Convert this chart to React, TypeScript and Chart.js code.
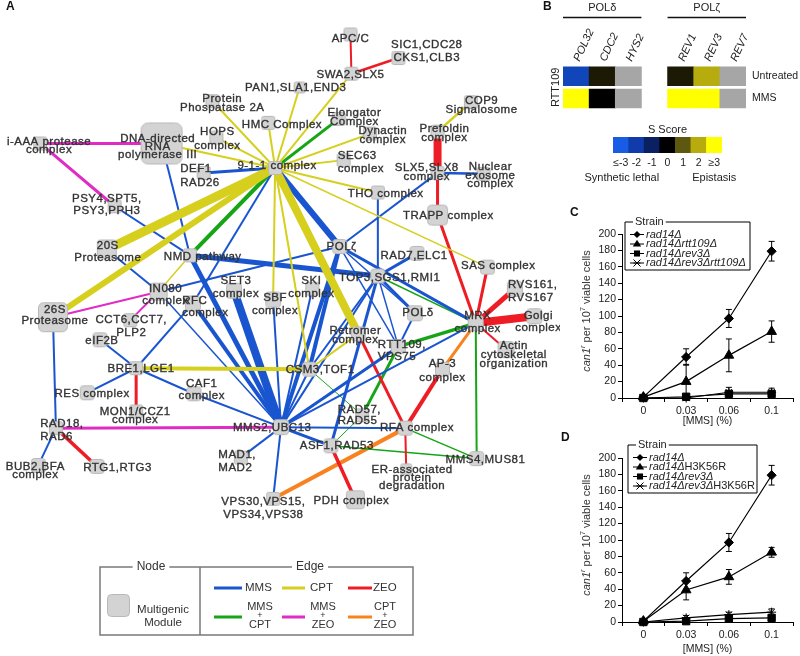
import React, { useEffect, useRef } from 'react';
import { Chart, registerables } from 'chart.js';

Chart.register(...registerables);
const FONT = '"Liberation Sans", Arial, Helvetica, sans-serif';
Chart.defaults.font.family = FONT;

// ================= Panel A : network =================
// [id, x, y, node size]
const nodes: [string, number, number, number][] = [
  ['APC', 352, 29, 14], ['SWA2', 353, 69, 14], ['SIC1', 401, 53, 14], ['PAN1', 300, 83, 12],
  ['PP2A', 211, 97, 14], ['HOPS', 215, 134, 14], ['HMC', 268, 119, 14], ['DNA', 159, 140, 42],
  ['IAAA', 35, 140, 14], ['DEF1', 202, 170, 14], ['N911', 275, 165, 14], ['ELONG', 340, 115, 14],
  ['DYN', 372, 130, 14], ['SEC63', 345, 157, 14], ['THO', 380, 190, 14], ['COP9', 475, 98, 14],
  ['PREF', 441, 128, 14], ['SLX5', 441, 170, 14], ['NUCL', 488, 171, 14], ['TRAPP', 441, 213, 21],
  ['PSY4', 111, 204, 14], ['P20S', 103, 248, 20], ['NMD', 188, 254, 14], ['INO80', 156, 291, 18],
  ['P26S', 48, 317, 30], ['RFC', 191, 303, 16], ['SET3', 233, 290, 16], ['SBF', 273, 299, 16],
  ['SKI', 313, 288, 14], ['POLZ', 341, 245, 15], ['TOP3', 380, 275, 15], ['RAD7', 420, 252, 15],
  ['SAS', 492, 266, 15], ['RVS', 520, 288, 16], ['GOLGI', 540, 316, 16], ['MRX', 480, 323, 16],
  ['ACTIN', 511, 350, 17], ['POLD', 418, 313, 16], ['RETRO', 360, 334, 15], ['RTT109', 401, 347, 15],
  ['CSM3', 310, 370, 15], ['AP3', 446, 370, 15], ['CCT6', 127, 320, 14], ['EIF2B', 96, 340, 15],
  ['BRE1', 133, 369, 14], ['CAF1', 192, 395, 15], ['RES', 83, 394, 15], ['MON1', 133, 413, 14],
  ['RAD18', 51, 430, 14], ['BUB2', 33, 468, 15], ['RTG1', 93, 469, 15], ['MMS2', 281, 429, 16],
  ['MAD1', 240, 460, 14], ['VPS30', 273, 502, 14], ['PDH', 357, 503, 19], ['ASF1', 332, 448, 15],
  ['RAD57', 364, 417, 14], ['RFA', 408, 430, 15], ['ERAD', 409, 472, 12], ['MMS4', 481, 461, 15],
];

// [id, text lines, x, y of first line, line step, align]
const nodeLabels: [string, string[], number, number, number, string][] = [
  ['APC', ['APC/C'], 352, 33, 0, 'c'],
  ['SWA2', ['SWA2,SLX5'], 352, 70, 0, 'c'],
  ['SIC1', ['SIC1,CDC28', 'CKS1,CLB3'], 430, 40, 13, 'c'],
  ['PAN1', ['PAN1,SLA1,END3'], 296, 83, 0, 'c'],
  ['PP2A', ['Protein', 'Phospatase 2A'], 221, 95, 8.5, 'c'],
  ['HOPS', ['HOPS', 'complex'], 216, 128, 14, 'c'],
  ['HMC', ['HMC Complex'], 282, 121, 0, 'c'],
  ['DNA', ['DNA-directed', 'RNA', 'polymerase III'], 155, 135, 8.5, 'c'],
  ['IAAA', ['i-AAA protease', 'complex'], 44, 138, 9, 'c'],
  ['DEF1', ['DEF1', 'RAD26'], 178, 166, 14, 'l'],
  ['N911', ['9-1-1 complex'], 277, 163, 0, 'c'],
  ['ELONG', ['Elongator', 'Complex'], 356, 109, 8.5, 'c'],
  ['DYN', ['Dynactin', 'complex'], 385, 127, 9, 'c'],
  ['SEC63', ['SEC63', 'complex'], 339, 153, 13, 'l'],
  ['THO', ['THO complex'], 388, 191, 0, 'c'],
  ['COP9', ['COP9', 'Signalosome'], 486, 97, 9, 'c'],
  ['PREF', ['Prefoldin', 'complex'], 448, 125, 9, 'c'],
  ['SLX5', ['SLX5,SLX8', 'complex'], 430, 165, 9, 'c'],
  ['NUCL', ['Nuclear', 'exosome', 'complex'], 495, 164, 8.5, 'c'],
  ['TRAPP', ['TRAPP complex'], 452, 214, 0, 'c'],
  ['PSY4', ['PSY4,SPT5,', 'PSY3,PPH3'], 103, 196, 13, 'c'],
  ['P20S', ['20S', 'Proteasome'], 104, 244, 13, 'c'],
  ['NMD', ['NMD pathway'], 201, 256, 0, 'c'],
  ['INO80', ['IN080', 'complex'], 163, 288, 12, 'c'],
  ['P26S', ['26S', 'Proteasome'], 50, 309, 12, 'c'],
  ['RFC', ['RFC', 'complex'], 180, 300, 13, 'l'],
  ['SET3', ['SET3', 'complex'], 235, 280, 13, 'c'],
  ['SBF', ['SBF', 'complex'], 275, 297, 13, 'c'],
  ['SKI', ['SKI', 'complex'], 312, 280, 13, 'c'],
  ['POLZ', ['POLζ'], 343, 245, 0, 'c'],
  ['TOP3', ['TOP3,SGS1,RMI1'], 392, 277, 0, 'c'],
  ['RAD7', ['RAD7,ELC1'], 417, 254, 0, 'c'],
  ['SAS', ['SAS complex'], 503, 265, 0, 'c'],
  ['RVS', ['RVS161,', 'RVS167'], 513, 284, 13, 'l'],
  ['GOLGI', ['Golgi', 'complex'], 544, 316, 12, 'c'],
  ['MRX', ['MRX', 'complex'], 482, 316, 13, 'c'],
  ['ACTIN', ['Actin', 'cytoskeletal', 'organization'], 519, 346, 9, 'c'],
  ['POLD', ['POLδ'], 421, 313, 0, 'c'],
  ['RETRO', ['Retromer', 'complex'], 357, 331, 9, 'c'],
  ['RTT109', ['RTT109,', 'VPS75'], 380, 345, 12, 'l'],
  ['CSM3', ['CSM3,TOF1'], 321, 371, 0, 'c'],
  ['AP3', ['AP-3', 'complex'], 446, 365, 14, 'c'],
  ['CCT6', ['CCT6,CCT7,', 'PLP2'], 128, 320, 13, 'c'],
  ['EIF2B', ['eIF2B'], 98, 341, 0, 'c'],
  ['BRE1', ['BRE1,LGE1'], 138, 370, 0, 'c'],
  ['CAF1', ['CAF1', 'complex'], 200, 385, 12, 'c'],
  ['RES', ['RES complex'], 88, 395, 0, 'c'],
  ['MON1', ['MON1/CCZ1', 'complex'], 132, 413, 9, 'c'],
  ['RAD18', ['RAD18,', 'RAD6'], 35, 426, 13, 'l'],
  ['BUB2', ['BUB2,BFA', 'complex'], 30, 469, 9, 'c'],
  ['RTG1', ['RTG1,RTG3'], 114, 470, 0, 'c'],
  ['MMS2', ['MMS2,UBC13'], 272, 430, 0, 'c'],
  ['MAD1', ['MAD1,', 'MAD2'], 217, 457, 13, 'l'],
  ['VPS30', ['VPS30,VPS15,', 'VPS34,VPS38'], 263, 505, 13, 'c'],
  ['PDH', ['PDH complex'], 353, 504, 0, 'c'],
  ['ASF1', ['ASF1,RAD53'], 338, 448, 0, 'c'],
  ['RAD57', ['RAD57,', 'RAD55'], 339, 411, 12, 'l'],
  ['RFA', ['RFA complex'], 420, 430, 0, 'c'],
  ['ERAD', ['ER-associated', 'protein', 'degradation'], 415, 472, 8.5, 'c'],
  ['MMS4', ['MMS4,MUS81'], 490, 462, 0, 'c'],
];

const edgeTypes = ['MMS', 'CPT', 'ZEO', 'MMS+CPT', 'MMS+ZEO', 'CPT+ZEO'];
const edgePalette = ['#1a55d0', '#d6cf1e', '#ee1c24', '#16a516', '#e02bc4', '#f7821f'];

// [from, to, condition, weight]
const edges: [string, string, string, number][] = [
  ['N911', 'DNA', 'CPT', 2], ['N911', 'PP2A', 'CPT', 2], ['N911', 'HMC', 'CPT', 2],
  ['N911', 'PAN1', 'CPT', 2], ['N911', 'SWA2', 'CPT', 2], ['N911', 'DYN', 'CPT', 2],
  ['N911', 'SEC63', 'CPT', 2], ['N911', 'THO', 'CPT', 2], ['N911', 'SAS', 'CPT', 1.5],
  ['N911', 'HOPS', 'CPT', 2], ['N911', 'P20S', 'CPT', 9], ['N911', 'P26S', 'CPT', 6],
  ['N911', 'SBF', 'CPT', 2], ['N911', 'CSM3', 'CPT', 2], ['N911', 'RETRO', 'CPT', 8],
  ['NMD', 'INO80', 'CPT', 1.5], ['BRE1', 'CSM3', 'CPT', 4], ['CSM3', 'RETRO', 'CPT', 2],
  ['PREF', 'COP9', 'CPT', 2.5],

  ['N911', 'DEF1', 'MMS', 3], ['N911', 'POLZ', 'MMS', 6], ['N911', 'RFC', 'MMS', 2],
  ['BRE1', 'RFC', 'MMS', 2], ['DNA', 'NMD', 'MMS', 2], ['PSY4', 'NMD', 'MMS', 2],
  ['P20S', 'INO80', 'MMS', 2], ['NMD', 'TOP3', 'MMS', 5], ['NMD', 'MMS2', 'MMS', 5],
  ['INO80', 'POLZ', 'MMS', 2], ['INO80', 'MMS2', 'MMS', 1.5], ['RFC', 'MMS2', 'MMS', 4],
  ['SET3', 'MMS2', 'MMS', 8], ['SBF', 'MMS2', 'MMS', 2], ['SKI', 'MMS2', 'MMS', 2],
  ['POLZ', 'MMS2', 'MMS', 4], ['TOP3', 'MMS2', 'MMS', 2], ['RTT109', 'MMS2', 'MMS', 3],
  ['MRX', 'MMS2', 'MMS', 2], ['CSM3', 'MMS2', 'MMS', 2], ['CAF1', 'MMS2', 'MMS', 2],
  ['MAD1', 'MMS2', 'MMS', 2], ['VPS30', 'MMS2', 'MMS', 2], ['ASF1', 'MMS2', 'MMS', 3],
  ['RFA', 'MMS2', 'MMS', 2], ['POLZ', 'SLX5', 'MMS', 2], ['THO', 'TOP3', 'MMS', 2],
  ['TOP3', 'RAD7', 'MMS', 3], ['POLZ', 'MRX', 'MMS', 3], ['TOP3', 'POLD', 'MMS', 3],
  ['TOP3', 'RTT109', 'MMS', 1.5], ['TOP3', 'CSM3', 'MMS', 2], ['TOP3', 'ASF1', 'MMS', 3],
  ['POLZ', 'CSM3', 'MMS', 4], ['POLZ', 'POLD', 'MMS', 1.5], ['POLZ', 'RTT109', 'MMS', 1.5],
  ['POLD', 'RTT109', 'MMS', 2], ['SLX5', 'NUCL', 'MMS', 2.5], ['P26S', 'RAD18', 'MMS', 2],
  ['RAD18', 'BUB2', 'MMS', 2], ['EIF2B', 'BRE1', 'MMS', 2], ['RES', 'BRE1', 'MMS', 2],
  ['BRE1', 'CAF1', 'MMS', 2],

  ['SWA2', 'APC', 'ZEO', 2], ['SWA2', 'SIC1', 'ZEO', 2.5], ['SLX5', 'PREF', 'ZEO', 8],
  ['SLX5', 'TRAPP', 'ZEO', 3], ['TRAPP', 'MRX', 'ZEO', 3], ['SAS', 'MRX', 'ZEO', 3],
  ['RVS', 'MRX', 'ZEO', 5], ['GOLGI', 'MRX', 'ZEO', 8], ['ACTIN', 'MRX', 'ZEO', 2],
  ['AP3', 'RFA', 'ZEO', 4], ['RETRO', 'RFA', 'ZEO', 3], ['RFA', 'ERAD', 'ZEO', 2],
  ['ASF1', 'PDH', 'ZEO', 3.5], ['RAD18', 'RTG1', 'ZEO', 3.5], ['BRE1', 'MON1', 'ZEO', 3],

  ['N911', 'ELONG', 'MMS+CPT', 3], ['N911', 'NMD', 'MMS+CPT', 4], ['TOP3', 'MRX', 'MMS+CPT', 1.5],
  ['RTT109', 'MRX', 'MMS+CPT', 3.5], ['RTT109', 'RAD57', 'MMS+CPT', 3], ['MRX', 'MMS4', 'MMS+CPT', 2],
  ['RFA', 'MMS4', 'MMS+CPT', 1.5], ['ASF1', 'MMS4', 'MMS+CPT', 1.5], ['ASF1', 'RAD57', 'MMS+CPT', 1],
  ['CSM3', 'RAD57', 'MMS+CPT', 1],

  ['IAAA', 'DNA', 'MMS+ZEO', 3], ['IAAA', 'PSY4', 'MMS+ZEO', 3], ['P26S', 'INO80', 'MMS+ZEO', 2],
  ['INO80', 'CCT6', 'MMS+ZEO', 2], ['RAD18', 'MMS2', 'MMS+ZEO', 3],

  ['MRX', 'AP3', 'CPT+ZEO', 3], ['VPS30', 'RFA', 'CPT+ZEO', 4],
];

function nodeImage(size: number): HTMLCanvasElement {
  const c = document.createElement('canvas');
  const s = size + 2;
  c.width = s;
  c.height = s;
  const g = c.getContext('2d')!;
  g.beginPath();
  g.roundRect(1.5, 1.5, size - 1, size - 1, Math.max(2, Math.round(size * 0.17)));
  g.fillStyle = '#d3d3d3';
  g.fill();
  g.strokeStyle = '#b9b9b9';
  g.lineWidth = 1;
  g.stroke();
  return c;
}

const netLabelPlugin = {
  id: 'netLabels',
  afterDatasetsDraw(chart: any) {
    const { ctx } = chart;
    const xs = chart.scales.x, ys = chart.scales.y;
    ctx.save();
    ctx.font = `11.5px ${FONT}`;
    ctx.fillStyle = '#333';
    ctx.strokeStyle = '#333';
    ctx.lineWidth = 0.35;
    ctx.textBaseline = 'middle';
    try { (ctx as any).letterSpacing = '0.5px'; } catch (e) { /* ignore */ }
    for (const [, lines, lx, ly, lh, al] of nodeLabels) {
      ctx.textAlign = al === 'l' ? 'left' : 'center';
      lines.forEach((t, k) => {
        const px = xs.getPixelForValue(lx), py = ys.getPixelForValue(ly + k * lh);
        ctx.fillText(t, px, py);
        ctx.strokeText(t, px, py);
      });
    }
    ctx.restore();
  },
};

const netLegendPlugin = {
  id: 'netLegend',
  afterDraw(chart: any) {
    const { ctx } = chart;
    const L = 100, T = 567, R = 413, B = 635, D = 200;
    ctx.save();
    ctx.font = `12px ${FONT}`;
    const nodeW = ctx.measureText('Node').width;
    const edgeW = ctx.measureText('Edge').width;
    const nodeCx = 151, edgeCx = 310;
    ctx.strokeStyle = '#7a7a7a';
    ctx.lineWidth = 1.5;
    ctx.beginPath();
    ctx.moveTo(nodeCx - nodeW / 2 - 4, T); ctx.lineTo(L, T); ctx.lineTo(L, B); ctx.lineTo(R, B);
    ctx.lineTo(R, T); ctx.lineTo(edgeCx + edgeW / 2 + 4, T);
    ctx.moveTo(edgeCx - edgeW / 2 - 4, T); ctx.lineTo(nodeCx + nodeW / 2 + 4, T);
    ctx.moveTo(D, T); ctx.lineTo(D, B);
    ctx.stroke();
    ctx.fillStyle = '#333';
    ctx.textBaseline = 'middle';
    ctx.textAlign = 'center';
    ctx.fillText('Node', nodeCx, T);
    ctx.fillText('Edge', edgeCx, T);
    // node key
    const img = nodeImage(23);
    ctx.drawImage(img, 106, 593);
    ctx.font = `11.5px ${FONT}`;
    ctx.fillText('Multigenic', 163, 610);
    ctx.fillText('Module', 163, 623);
    // edge key
    const lineX = [[214, 242], [282, 305], [348, 372]];
    const textX = [245, 310, 373];
    const comboX = [260, 323, 385];
    edgeTypes.forEach((t, i) => {
      const col = i % 3, row = Math.floor(i / 3);
      const y = row === 0 ? 588 : 617;
      ctx.strokeStyle = edgePalette[i];
      ctx.lineWidth = 3;
      ctx.beginPath();
      ctx.moveTo(lineX[col][0], y);
      ctx.lineTo(lineX[col][1], y);
      ctx.stroke();
      ctx.fillStyle = '#333';
      if (row === 0) {
        ctx.font = `11.5px ${FONT}`;
        ctx.textAlign = 'left';
        ctx.fillText(t, textX[col], y);
      } else {
        const parts = t.split('+');
        ctx.textAlign = 'center';
        ctx.font = `11px ${FONT}`;
        ctx.fillText(parts[0], comboX[col], y - 10);
        ctx.font = `9px ${FONT}`;
        ctx.fillText('+', comboX[col], y - 1);
        ctx.font = `11px ${FONT}`;
        ctx.fillText(parts[1], comboX[col], y + 8);
      }
    });
    ctx.restore();
  },
};

function NetworkPanel() {
  const ref = useRef<HTMLCanvasElement>(null);
  useEffect(() => {
    const pos: Record<string, { x: number; y: number }> = {};
    nodes.forEach(([id, x, y]) => { pos[id] = { x, y }; });
    const edgeSets = edges.map(([a, b, t, w]) => ({
      data: [pos[a], pos[b]],
      showLine: true,
      borderColor: edgePalette[edgeTypes.indexOf(t)],
      borderWidth: w,
      pointRadius: 0,
      pointHoverRadius: 0,
      pointHitRadius: 0,
      order: 1,
      clip: false,
    }));
    const nodeSet = {
      data: nodes.map(([, x, y]) => ({ x, y })),
      pointStyle: nodes.map(([, , , s]) => nodeImage(s)),
      pointRadius: 5,
      pointHoverRadius: 5,
      order: 0,
      clip: false,
    };
    const chart = new Chart(ref.current!, {
      type: 'scatter',
      data: { datasets: [nodeSet, ...edgeSets] as any },
      options: {
        responsive: false,
        animation: false,
        devicePixelRatio: 1,
        events: [],
        layout: { padding: 0 },
        plugins: { legend: { display: false }, tooltip: { enabled: false } },
        scales: {
          x: { type: 'linear', min: 0, max: 560, display: false },
          y: { type: 'linear', min: 0, max: 656, reverse: true, display: false },
        },
      },
      plugins: [netLabelPlugin, netLegendPlugin],
    } as any);
    return () => chart.destroy();
  }, []);
  return <canvas ref={ref} width={560} height={656} style={{ position: 'absolute', left: 0, top: 0 }} />;
}

// ================= Panel B : heat map =================
const heatCols = ['POL32', 'CDC2', 'HYS2', '', 'REV1', 'REV3', 'REV7'];
const heatRows = ['Untreated', 'MMS'];
const scoreUntreated: (number | null)[] = [-2.3, 0.3, null, null, 0.3, 2, null];
const scoreMMS: (number | null)[] = [3, 0, null, null, 3, 3, null];
const groupNames = ['POLδ', 'POLζ'];
const groupFirst = [0, 4];
const groupLast = [2, 6];
const scoreTicks = ['≤-3', '-2', '-1', '0', '1', '2', '≥3'];
const scoreSteps = [-3, -2, -1, 0, 1, 2, 3];
const scoreColors = [[22, 92, 228], [15, 60, 170], [10, 32, 98], [0, 0, 0], [92, 88, 16], [182, 172, 14], [255, 255, 0]];

function colorFor(v: number | null): string {
  if (v === null) return '#a6a6a6';
  const t = Math.max(-3, Math.min(3, v)) + 3;
  const i = Math.min(5, Math.floor(t));
  const f = t - i;
  const a = scoreColors[i], b = scoreColors[i + 1];
  const c = a.map((q, k) => Math.round(q + (b[k] - q) * f));
  return `rgb(${c[0]},${c[1]},${c[2]})`;
}

const heatHeaderPlugin = {
  id: 'heatHeader',
  afterDraw(chart: any) {
    const { ctx, chartArea } = chart;
    const xs = chart.scales.x;
    const w = xs.width / heatCols.length;
    ctx.save();
    ctx.font = `11px ${FONT}`;
    ctx.fillStyle = '#222';
    ctx.textAlign = 'center';
    ctx.textBaseline = 'middle';
    ctx.strokeStyle = '#111';
    ctx.lineWidth = 1.5;
    groupNames.forEach((g, k) => {
      const l = xs.getPixelForValue(groupFirst[k]) - w / 2;
      const r = xs.getPixelForValue(groupLast[k]) + w / 2;
      ctx.fillText(g, (l + r) / 2, 8);
      ctx.beginPath();
      ctx.moveTo(l, 17.5);
      ctx.lineTo(r, 17.5);
      ctx.stroke();
    });
    // rotated column names
    ctx.font = `italic 11px ${FONT}`;
    ctx.textAlign = 'left';
    ctx.textBaseline = 'alphabetic';
    heatCols.forEach((c, i) => {
      if (!c) return;
      ctx.save();
      ctx.translate(xs.getPixelForValue(i) + 3.5, chartArea.top - 3);
      ctx.rotate(-65 * Math.PI / 180);
      ctx.fillText(c, 0, 0);
      ctx.restore();
    });
    ctx.restore();
  },
};

function HeatPanel() {
  const ref = useRef<HTMLCanvasElement>(null);
  useEffect(() => {
    const n = heatRows.length;
    const rowScores = [scoreUntreated, scoreMMS];
    const datasets = heatRows.map((row, r) => ({
      label: row,
      data: heatCols.map((c) => (c === '' ? null : [n - 1 - r + 0.08, n - r - 0.08])),
      backgroundColor: rowScores[r].map(colorFor),
      grouped: false,
      barPercentage: 1,
      categoryPercentage: 1,
      borderWidth: 0,
    }));
    const chart = new Chart(ref.current!, {
      type: 'bar',
      data: { labels: heatCols, datasets },
      options: {
        responsive: false,
        animation: false,
        devicePixelRatio: 1,
        events: [],
        layout: { padding: { left: 0, right: 0, top: 0, bottom: 7 } },
        plugins: { legend: { display: false }, tooltip: { enabled: false } },
        scales: {
          x: {
            position: 'top',
            grid: { display: false, drawTicks: false },
            border: { display: false },
            ticks: { display: false },
            afterFit: (s: any) => { s.height = 65; },
          },
          y: {
            min: 0, max: n,
            grid: { display: false, drawTicks: false },
            border: { display: false },
            ticks: { display: false },
            title: { display: true, text: 'RTT109', color: '#222', font: { family: FONT, size: 11 }, padding: { top: 9, bottom: 0 } },
            afterFit: (s: any) => { s.width = 23; },
          },
          rows: {
            type: 'category', labels: heatRows, position: 'right', offset: true,
            grid: { display: false, drawTicks: false },
            border: { display: false },
            ticks: { padding: 6, color: '#222', font: { family: FONT, size: 10.5 } },
            afterFit: (s: any) => { s.width = 54; },
          },
        },
      },
      plugins: [heatHeaderPlugin],
    } as any);
    return () => chart.destroy();
  }, []);
  return <canvas ref={ref} width={260} height={122} style={{ position: 'absolute', left: 540, top: 0 }} />;
}

const scaleTextPlugin = {
  id: 'scaleText',
  afterDraw(chart: any) {
    const { ctx, chartArea } = chart;
    const xs = chart.scales.x;
    ctx.save();
    ctx.font = `11px ${FONT}`;
    ctx.fillStyle = '#222';
    ctx.textAlign = 'center';
    ctx.textBaseline = 'middle';
    ctx.fillText('S Score', (chartArea.left + chartArea.right) / 2, chartArea.top - 7);
    ctx.fillText('Synthetic lethal', xs.getPixelForValue(0) + 1, 60);
    ctx.fillText('Epistasis', xs.getPixelForValue(scoreTicks.length - 1), 60);
    ctx.restore();
  },
};

function ScalePanel() {
  const ref = useRef<HTMLCanvasElement>(null);
  useEffect(() => {
    const chart = new Chart(ref.current!, {
      type: 'bar',
      data: {
        labels: scoreTicks,
        datasets: [{
          data: scoreSteps.map(() => 1),
          backgroundColor: scoreSteps.map(colorFor),
          barPercentage: 1, categoryPercentage: 1, borderWidth: 0,
        }],
      },
      options: {
        responsive: false, animation: false, devicePixelRatio: 1, events: [],
        layout: { padding: { left: 53, right: 58, top: 19, bottom: 0 } },
        plugins: { legend: { display: false }, tooltip: { enabled: false } },
        scales: {
          x: {
            grid: { display: false, drawTicks: false },
            border: { display: false },
            ticks: { padding: 4, autoSkip: false, minRotation: 0, maxRotation: 0, color: '#222', font: { family: FONT, size: 10.5 } },
            afterFit: (s: any) => { s.height = 35; },
          },
          y: { display: false, min: 0, max: 1 },
        },
      },
      plugins: [scaleTextPlugin],
    } as any);
    return () => chart.destroy();
  }, []);
  return <canvas ref={ref} width={220} height={70} style={{ position: 'absolute', left: 560, top: 118 }} />;
}

// ================= Panels C & D : mutation curves =================
const doses = ['0', '0.03', '0.06', '0.1'];
const strainsC = ['rad14Δ', 'rad14Δrtt109Δ', 'rad14Δrev3Δ', 'rad14Δrev3Δrtt109Δ'];
const cRad14 = [1, 50, 97, 179];
const cRad14Err = [0, 10, 11, 12];
const cRtt109 = [1, 20, 52, 81];
const cRtt109Err = [0, 21, 20, 13];
const cRev3 = [0, 1.5, 5, 5];
const cRev3Err = [0, 1, 2, 2];
const cRev3Rtt109 = [0, 0, 7, 7];
const cRev3Rtt109Err = [0, 1, 6, 5];

const strainsD = ['rad14Δ', 'rad14ΔH3K56R', 'rad14Δrev3Δ', 'rad14Δrev3ΔH3K56R'];
const dRad14 = [1, 50, 97, 179];
const dRad14Err = [0, 10, 11, 12];
const dH3K56R = [1, 39, 55, 85];
const dH3K56RErr = [0, 12, 9, 6];
const dRev3 = [0, 1, 4, 5];
const dRev3Err = [0, 1, 2, 2];
const dRev3H3K56R = [0, 5, 9, 12];
const dRev3H3K56RErr = [0, 3, 3, 4];

const markerStyles = ['rectRot', 'triangle', 'rect', 'star'];
const markerRadii = [4.6, 5.6, 5.2, 4.5];

function drawMarker(ctx: CanvasRenderingContext2D, style: string, x: number, y: number, r: number) {
  ctx.beginPath();
  if (style === 'rectRot') {
    ctx.moveTo(x, y - r); ctx.lineTo(x + r, y); ctx.lineTo(x, y + r); ctx.lineTo(x - r, y); ctx.closePath(); ctx.fill();
  } else if (style === 'triangle') {
    ctx.moveTo(x, y - r); ctx.lineTo(x + r * 0.95, y + r * 0.6); ctx.lineTo(x - r * 0.95, y + r * 0.6); ctx.closePath(); ctx.fill();
  } else if (style === 'rect') {
    ctx.rect(x - r * 0.75, y - r * 0.75, r * 1.5, r * 1.5); ctx.fill();
  } else {
    ctx.moveTo(x - r, y - r); ctx.lineTo(x + r, y + r);
    ctx.moveTo(x - r, y + r); ctx.lineTo(x + r, y - r);
    ctx.moveTo(x - r, y); ctx.lineTo(x + r, y);
    ctx.stroke();
  }
}

function richSegments(name: string) {
  const k = name.indexOf('H3K56R');
  if (k < 0) return [{ t: name, it: true }];
  return [{ t: name.slice(0, k), it: true }, { t: 'H3K56R', it: false }];
}

function makeCurvePlugin(names: string[], errs: number[][], boxDX: number, boxDY: number, boxW: number) {
  return {
    id: 'curveExtras',
    afterDatasetsDraw(chart: any) {
      const { ctx } = chart;
      const ys = chart.scales.y;
      ctx.save();
      ctx.strokeStyle = '#000';
      ctx.lineWidth = 1;
      chart.data.datasets.forEach((ds: any, i: number) => {
        const meta = chart.getDatasetMeta(i);
        ds.data.forEach((v: number, j: number) => {
          const e = errs[i][j];
          if (!e) return;
          const x = meta.data[j].x;
          const yHi = ys.getPixelForValue(v + e);
          const yLo = ys.getPixelForValue(Math.max(0, v - e));
          ctx.beginPath();
          ctx.moveTo(x, yHi); ctx.lineTo(x, yLo);
          ctx.moveTo(x - 3, yHi); ctx.lineTo(x + 3, yHi);
          ctx.moveTo(x - 3, yLo); ctx.lineTo(x + 3, yLo);
          ctx.stroke();
        });
      });
      ctx.restore();
    },
    afterDraw(chart: any) {
      const { ctx, chartArea: ca } = chart;
      ctx.save();
      // y title
      const segs = [
        { t: 'can1', it: true, sup: false }, { t: 'r', it: true, sup: true },
        { t: ' per 10', it: false, sup: false }, { t: '7', it: false, sup: true },
        { t: ' viable cells', it: false, sup: false },
      ];
      const fontOf = (s: any) => `${s.it ? 'italic ' : ''}${s.sup ? 7.5 : 11}px ${FONT}`;
      let total = 0;
      segs.forEach((s) => { ctx.font = fontOf(s); total += ctx.measureText(s.t).width; });
      ctx.translate(ca.left - 35, (ca.top + ca.bottom) / 2 - 5);
      ctx.rotate(-Math.PI / 2);
      ctx.fillStyle = '#333';
      ctx.textBaseline = 'middle';
      ctx.textAlign = 'left';
      let x = -total / 2;
      segs.forEach((s) => {
        ctx.font = fontOf(s);
        ctx.fillText(s.t, x, s.sup ? -4 : 0);
        x += ctx.measureText(s.t).width;
      });
      ctx.restore();

      // legend box
      ctx.save();
      const bx = ca.left + boxDX, by = ca.top + boxDY, bh = 48;
      ctx.font = `11px ${FONT}`;
      const tw = ctx.measureText('Strain').width;
      const tx = bx + 10;
      ctx.strokeStyle = '#000';
      ctx.lineWidth = 1;
      ctx.beginPath();
      ctx.moveTo(tx - 2, by); ctx.lineTo(bx, by); ctx.lineTo(bx, by + bh); ctx.lineTo(bx + boxW, by + bh);
      ctx.lineTo(bx + boxW, by); ctx.lineTo(tx + tw + 2, by);
      ctx.stroke();
      ctx.fillStyle = '#222';
      ctx.textBaseline = 'middle';
      ctx.textAlign = 'left';
      ctx.fillText('Strain', tx, by);
      names.forEach((nm, i) => {
        const y = by + 12.5 + i * 9.5;
        ctx.strokeStyle = '#000';
        ctx.fillStyle = '#000';
        ctx.lineWidth = 1;
        ctx.beginPath();
        ctx.moveTo(bx + 5, y); ctx.lineTo(bx + 19, y);
        ctx.stroke();
        drawMarker(ctx, markerStyles[i], bx + 12, y, markerRadii[i] * 0.78);
        let x0 = bx + 21;
        ctx.fillStyle = '#222';
        richSegments(nm).forEach((s) => {
          ctx.font = `${s.it ? 'italic ' : ''}11px ${FONT}`;
          ctx.fillText(s.t, x0, y);
          x0 += ctx.measureText(s.t).width;
        });
      });
      ctx.restore();
    },
  };
}

function CurvePanel(props: {
  top: number; height: number; names: string[]; series: number[][]; errs: number[][];
  boxDX: number; boxDY: number; boxW: number; titlePad: number;
}) {
  const ref = useRef<HTMLCanvasElement>(null);
  useEffect(() => {
    const { height, names, series, errs, boxDX, boxDY, boxW, titlePad } = props;
    const tickFont = { family: FONT, size: 10.5 };
    const chart = new Chart(ref.current!, {
      type: 'line',
      data: {
        labels: doses,
        datasets: series.map((vals, i) => ({
          label: names[i],
          data: vals,
          borderColor: '#000',
          backgroundColor: '#000',
          borderWidth: 1.2,
          pointStyle: markerStyles[i],
          pointRadius: markerRadii[i],
          pointBorderColor: '#000',
          pointBackgroundColor: '#000',
          pointBorderWidth: 1,
          tension: 0,
          clip: false,
        })),
      },
      options: {
        responsive: false, animation: false, devicePixelRatio: 1, events: [],
        layout: { padding: { left: 0, right: 7, top: 29, bottom: 0 } },
        plugins: { legend: { display: false }, tooltip: { enabled: false } },
        scales: {
          x: {
            offset: true,
            grid: { display: true, drawOnChartArea: false, offset: true, tickLength: 4, color: '#000', lineWidth: 1 },
            border: { display: true, color: '#000', width: 1 },
            ticks: { padding: 3, color: '#222', font: tickFont },
            title: { display: true, text: '[MMS] (%)', color: '#222', font: tickFont, padding: { top: 0, bottom: titlePad } },
            afterFit: (s: any) => { s.height = height - 193; },
          },
          y: {
            min: 0, max: 200,
            grid: { display: true, drawOnChartArea: false, tickLength: 4, color: '#000', lineWidth: 1 },
            border: { display: true, color: '#000', width: 1 },
            ticks: { stepSize: 20, padding: 2, color: '#222', font: tickFont },
            afterFit: (s: any) => { s.width = 62; },
          },
        },
      },
      plugins: [makeCurvePlugin(names, errs, boxDX, boxDY, boxW)],
    } as any);
    return () => chart.destroy();
  }, []);
  return (
    <canvas ref={ref} width={240} height={props.height}
      style={{ position: 'absolute', left: 560, top: props.top }} />
  );
}

const letterStyle: React.CSSProperties = {
  position: 'absolute', font: `bold 12px ${FONT}`, lineHeight: '12px', color: '#111',
};

export default function App() {
  return (
    <div style={{ position: 'absolute', left: 0, top: 0, width: 800, height: 656, background: '#fff', overflow: 'hidden' }}>
      <NetworkPanel />
      <HeatPanel />
      <ScalePanel />
      <CurvePanel top={205} height={224} names={strainsC}
        series={[cRad14, cRtt109, cRev3, cRev3Rtt109]}
        errs={[cRad14Err, cRtt109Err, cRev3Err, cRev3Rtt109Err]}
        boxDX={3} boxDY={-12} boxW={125} titlePad={2} />
      <CurvePanel top={429} height={227} names={strainsD}
        series={[dRad14, dH3K56R, dRev3, dRev3H3K56R]}
        errs={[dRad14Err, dH3K56RErr, dRev3Err, dRev3H3K56RErr]}
        boxDX={6} boxDY={-13} boxW={129} titlePad={1} />
      <div style={{ ...letterStyle, left: 6, top: 0 }}>A</div>
      <div style={{ ...letterStyle, left: 543, top: 0 }}>B</div>
      <div style={{ ...letterStyle, left: 570, top: 206 }}>C</div>
      <div style={{ ...letterStyle, left: 561, top: 431 }}>D</div>
    </div>
  );
}
